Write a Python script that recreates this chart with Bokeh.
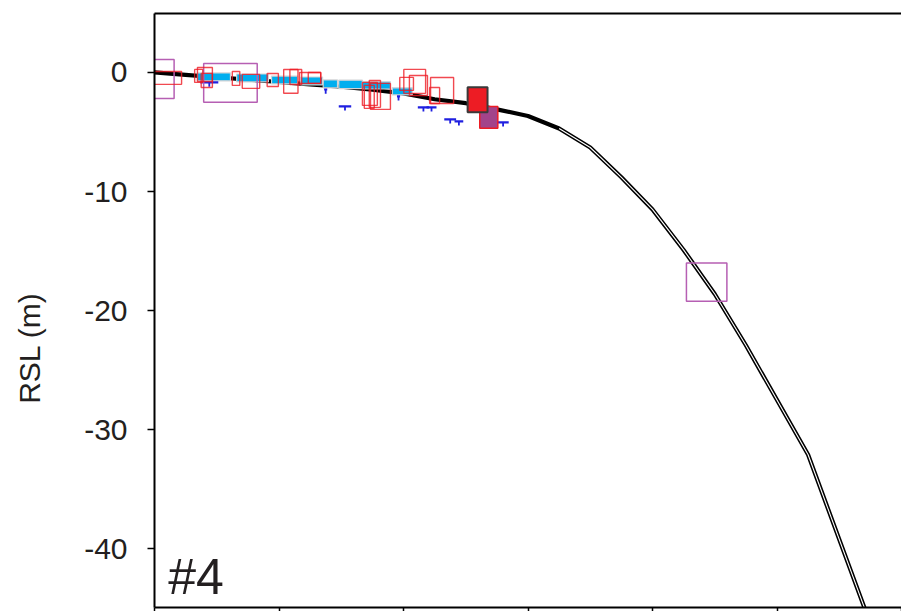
from bokeh.plotting import figure
from bokeh.models import LinearAxis, FixedTicker, Label, Range1d
from bokeh.embed import file_html
from bokeh.resources import INLINE

# ---- data (age in ka BP, RSL in m) ----
model_age = [0.0, 0.5, 1.0, 1.5, 2.0, 2.5, 3.0, 3.5, 4.0, 4.5, 5.0, 5.5, 6.0, 6.5,
             7.0, 7.5, 8.0, 8.5, 9.0, 9.5, 10.5, 11.5]
model_rsl = [0.0, -0.2, -0.4, -0.6, -0.8, -1.0, -1.2, -1.45, -1.76, -2.25, -2.58, -3.1,
             -3.65, -4.7, -6.3, -8.8, -11.5, -14.9, -18.6, -22.9, -32.1, -46.3]

# red sea-level index points (center age, age width, center rsl, rsl height)
red_age = [0.21, 0.71, 0.81, 0.84, 1.31, 1.55, 1.90, 2.19, 2.27, 2.50, 2.57,
           3.46, 3.54, 3.45, 3.63, 4.05, 4.18, 4.24, 4.62, 4.50]
red_w = [0.45, 0.13, 0.24, 0.18, 0.12, 0.28, 0.18, 0.23, 0.19, 0.34, 0.20,
         0.24, 0.18, 0.16, 0.32, 0.22, 0.35, 0.29, 0.37, 0.16]
red_rsl = [-0.46, -0.29, -0.17, -0.67, -0.50, -0.75, -0.63, -0.75, -0.38, -0.46, -0.46,
           -1.80, -1.80, -2.05, -2.01, -0.96, -0.75, -1.09, -1.51, -1.93]
red_h = [1.08, 1.09, 1.17, 1.18, 1.17, 1.17, 1.09, 2.00, 1.25, 0.92, 0.92,
         1.93, 2.26, 1.93, 2.18, 1.09, 2.01, 1.68, 2.18, 1.34]

# magenta index points
mag_age = [0.15, 1.22, 8.87]
mag_w = [0.33, 0.86, 0.65]
mag_rsl = [-0.55, -0.88, -17.6]
mag_h = [3.27, 3.26, 3.2]

# highlighted points
hl_red_age, hl_red_w, hl_red_rsl, hl_red_h = [5.19], [0.32], [-2.30], [2.1]
hl_mag_age, hl_mag_w, hl_mag_rsl, hl_mag_h = [5.37], [0.29], [-3.77], [1.84]

# cyan intertidal bars
cyan_age = [0.955, 1.575, 2.09, 2.525, 2.825, 3.15, 3.565, 3.98]
cyan_w = [0.53, 0.51, 0.42, 0.35, 0.23, 0.38, 0.45, 0.32]
cyan_rsl = [-0.37, -0.46, -0.63, -0.71, -0.96, -1.0, -1.09, -1.59]
cyan_h = [0.66, 0.66, 0.66, 0.66, 0.66, 0.70, 0.60, 0.60]

# blue marine limiting points
blue_age = [0.88, 2.75, 3.06, 3.92, 4.32, 4.45, 4.75, 4.89, 5.60]
blue_w = [0.29, 0.05, 0.20, 0.05, 0.18, 0.16, 0.19, 0.14, 0.18]
blue_rsl = [-0.84, -1.43, -2.85, -2.01, -2.93, -2.93, -3.94, -4.10, -4.19]

x_ticks = [0, 2, 4, 6, 8, 10, 12]
y_ticks = [0, -10, -20, -30, -40]
y_tick_labels = {t: str(t) for t in y_ticks}
y_title = "RSL (m)"

FONT = "Liberation Sans"
TXT = "#231f20"

p = figure(width=901, height=611, output_backend="svg", toolbar_location=None,
           x_range=Range1d(0, 12), y_range=Range1d(-44.92, 4.95),
           min_border_left=154, min_border_right=0, min_border_top=13,
           min_border_bottom=3, x_axis_location=None, y_axis_location=None)
p.outline_line_color = None
p.grid.visible = False
p.background_fill_color = "white"
p.border_fill_color = "white"

# axes (title padded with no-break spaces so it sits below the frame centre,
# as in the reference)
ya = LinearAxis(ticker=FixedTicker(ticks=y_ticks),
                axis_label=y_title + "\u00a0" * 9)
ya.major_label_overrides = y_tick_labels
ya.axis_line_width = 2
ya.axis_line_color = "black"
ya.major_tick_out = 7
ya.major_tick_in = 0
ya.major_tick_line_width = 1.5
ya.minor_tick_line_color = None
ya.major_label_text_font = FONT
ya.major_label_text_font_size = "30px"
ya.major_label_text_color = TXT
ya.major_label_standoff = 20
ya.axis_label_text_font = FONT
ya.axis_label_text_font_size = "30px"
ya.axis_label_text_font_style = "normal"
ya.axis_label_text_color = TXT
ya.axis_label_standoff = 35
p.add_layout(ya, "left")

xa = LinearAxis(ticker=FixedTicker(ticks=x_ticks))
xa.axis_line_width = 2
xa.major_tick_out = 4
xa.major_tick_in = 0
xa.major_tick_line_width = 1.5
xa.minor_tick_line_color = None
xa.major_label_text_font_size = "0px"
xa.major_label_text_color = None
xa.major_label_standoff = 0
p.add_layout(xa, "below")

ta = LinearAxis(ticker=FixedTicker(ticks=[]))
ta.axis_line_width = 2
ta.major_tick_out = 0
ta.major_tick_in = 0
ta.minor_tick_line_color = None
ta.major_label_text_font_size = "0px"
ta.major_label_text_color = None
ta.major_label_standoff = 0
p.add_layout(ta, "above")

# model curve
p.line(model_age, model_rsl, line_color="black", line_width=4.2)
k = model_age.index(6.5)
p.line(model_age[k:], model_rsl[k:], line_color="white", line_width=1.1)

# cyan bars
p.rect(cyan_age, cyan_rsl, cyan_w, cyan_h, fill_color="#00aeef",
       line_color="#d2d4d6", line_width=1.2)

# blue limiting markers
bx0 = [a - w / 2 for a, w in zip(blue_age, blue_w)]
bx1 = [a + w / 2 for a, w in zip(blue_age, blue_w)]
p.segment(bx0, blue_rsl, bx1, blue_rsl, line_color="#1f1fe0", line_width=2.2)
p.segment(blue_age, blue_rsl, blue_age, [r - 0.35 for r in blue_rsl],
          line_color="#1f1fe0", line_width=1.8)

# magenta boxes
p.rect(mag_age, mag_rsl, mag_w, mag_h, fill_color=None,
       line_color="#b65fb3", line_width=1.5)

# red boxes
p.rect(red_age, red_rsl, red_w, red_h, fill_color=None,
       line_color="#ed1c24", line_alpha=0.8, line_width=1.4)

# highlighted
p.rect(hl_mag_age, hl_mag_rsl, hl_mag_w, hl_mag_h, fill_color="#a3438a",
       line_color="#ed1c24", line_width=1.5)
p.rect(hl_red_age, hl_red_rsl, hl_red_w, hl_red_h, fill_color="#ed1c24",
       line_color="#3a3a3a", line_width=2)

# panel tag
p.add_layout(Label(x=0.22, y=-42.4, text="#4", text_font=FONT,
                   text_font_size="50px", text_color=TXT,
                   text_baseline="middle"))

open("out.html", "w").write(file_html(p, INLINE))
